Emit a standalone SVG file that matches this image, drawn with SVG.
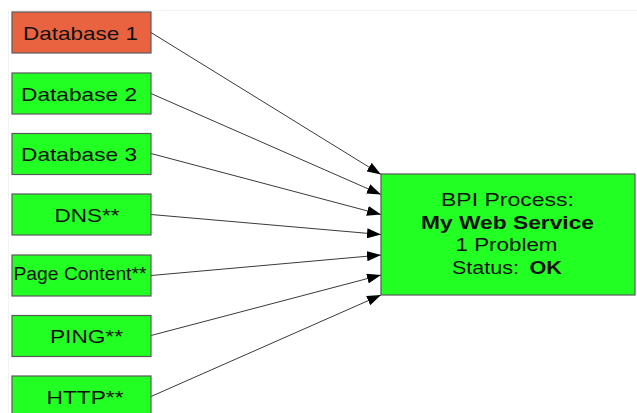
<svg xmlns="http://www.w3.org/2000/svg" width="637" height="413" viewBox="0 0 637 413">
<style>
  .box{stroke:#5a5a5a;stroke-width:1.2}
  .ok{fill:#22ff22}
  .bad{fill:#e96341}
  .lbl{font-family:"Liberation Sans",Arial,sans-serif;font-size:19px;fill:#111}
  .main{font-family:"Liberation Sans",Arial,sans-serif;font-size:17.5px;fill:#111}
  .b{font-weight:bold}
  .conn{stroke:#3a3a3a;stroke-width:1;fill:none;marker-end:url(#arr)}
</style>
<defs>
  <marker id="arr" markerUnits="userSpaceOnUse" viewBox="0 0 14 10" refX="14" refY="5" markerWidth="14" markerHeight="10" orient="auto">
    <path d="M0,0 L14,5 L0,10 z" fill="#000"/>
  </marker>
</defs>
<rect width="637" height="413" fill="#fff"/>
<path d="M8.5,413 V10.5 H637" fill="none" stroke="#f3f3f3" stroke-width="1"/>
<g id="connectors">
  <line class="conn" x1="151" y1="32.5" x2="381" y2="174.5"/>
  <line class="conn" x1="151" y1="93.5" x2="381" y2="194.5"/>
  <line class="conn" x1="151" y1="153.5" x2="381" y2="214.5"/>
  <line class="conn" x1="151" y1="214.5" x2="381" y2="234.5"/>
  <line class="conn" x1="151" y1="275.5" x2="381" y2="255"/>
  <line class="conn" x1="151" y1="335.5" x2="381" y2="275"/>
  <line class="conn" x1="151" y1="396.5" x2="381" y2="295"/>
</g>
<g id="db1">
  <rect class="box bad" x="12" y="12" width="139" height="41"/>
  <text class="lbl" x="23" y="40" textLength="115" lengthAdjust="spacingAndGlyphs">Database 1</text>
</g>
<g id="db2">
  <rect class="box ok" x="12" y="73" width="139" height="41"/>
  <text class="lbl" x="21" y="100.5" textLength="116" lengthAdjust="spacingAndGlyphs">Database 2</text>
</g>
<g id="db3">
  <rect class="box ok" x="12" y="133.5" width="139" height="41"/>
  <text class="lbl" x="21" y="160.5" textLength="116" lengthAdjust="spacingAndGlyphs">Database 3</text>
</g>
<g id="dns">
  <rect class="box ok" x="12" y="194" width="139" height="41"/>
  <text class="lbl" x="54.5" y="221.5" textLength="65" lengthAdjust="spacingAndGlyphs">DNS**</text>
</g>
<g id="page">
  <rect class="box ok" x="12" y="255" width="139" height="41"/>
  <text class="lbl" x="13.5" y="279.5" style="font-size:18px" textLength="133" lengthAdjust="spacingAndGlyphs">Page Content**</text>
</g>
<g id="ping">
  <rect class="box ok" x="12" y="315.5" width="139" height="41"/>
  <text class="lbl" x="50" y="343" textLength="73" lengthAdjust="spacingAndGlyphs">PING**</text>
</g>
<g id="http">
  <rect class="box ok" x="12" y="376" width="139" height="41"/>
  <text class="lbl" x="46.5" y="404" textLength="77" lengthAdjust="spacingAndGlyphs">HTTP**</text>
</g>
<g id="bpi">
  <rect class="box ok" x="381" y="174" width="254" height="121"/>
  <text class="main" x="441" y="206" textLength="133" lengthAdjust="spacingAndGlyphs">BPI Process:</text>
  <text class="main b" x="421" y="228.5" textLength="173" lengthAdjust="spacingAndGlyphs">My Web Service</text>
  <text class="main" x="455.5" y="251" textLength="102" lengthAdjust="spacingAndGlyphs">1 Problem</text>
  <text class="main" x="452" y="273.5" textLength="67" lengthAdjust="spacingAndGlyphs">Status:</text>
  <text class="main b" x="529.5" y="273.5" textLength="32.5" lengthAdjust="spacingAndGlyphs">OK</text>
</g>
</svg>
